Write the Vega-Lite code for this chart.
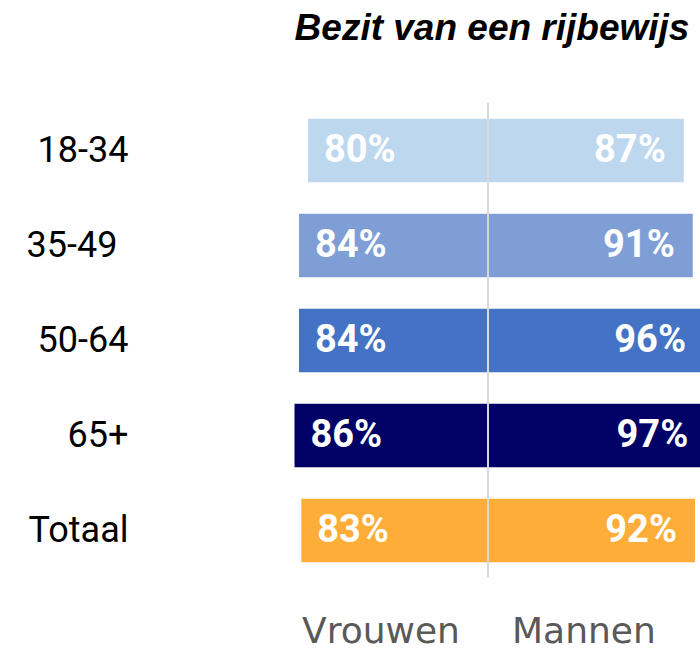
{
  "$schema": "https://vega.github.io/schema/vega-lite/v6.json",
  "width": 416,
  "height": 475,
  "autosize": "none",
  "padding": {"left": 284, "top": 103, "right": 0, "bottom": 74},
  "background": "white",
  "title": {"text": "Bezit van een rijbewijs", "font": "Liberation Sans", "fontSize": 37, "fontWeight": "bold", "fontStyle": "italic", "color": "#000000", "anchor": "middle", "offset": 54},
  "config": {"view": {"stroke": null}},
  "data": {"values": [
    {"groep": "18-34", "geslacht": "Vrouwen", "pct": 0.80},
    {"groep": "18-34", "geslacht": "Mannen", "pct": 0.87},
    {"groep": "35-49", "geslacht": "Vrouwen", "pct": 0.84},
    {"groep": "35-49", "geslacht": "Mannen", "pct": 0.91},
    {"groep": "50-64", "geslacht": "Vrouwen", "pct": 0.84},
    {"groep": "50-64", "geslacht": "Mannen", "pct": 0.96},
    {"groep": "65+", "geslacht": "Vrouwen", "pct": 0.86},
    {"groep": "65+", "geslacht": "Mannen", "pct": 0.97},
    {"groep": "Totaal", "geslacht": "Vrouwen", "pct": 0.83},
    {"groep": "Totaal", "geslacht": "Mannen", "pct": 0.92}
  ]},
  "layer": [
    {
      "transform": [{"filter": "datum.geslacht == 'Vrouwen'"}],
      "encoding": {
        "y": {"field": "groep", "type": "nominal", "sort": ["18-34", "35-49", "50-64", "65+", "Totaal"], "scale": {"paddingInner": 0.33, "paddingOuter": 0.165},
          "axis": {"title": null, "domain": false, "ticks": false, "grid": false, "labelFont": "Roboto", "labelFontSize": 36, "labelColor": "#000000", "labelAlign": "right", "labelBaseline": "middle", "labelPadding": {"condition": {"test": "datum.value === '35-49'", "value": 167}, "value": 156}}},
        "x": {"field": "pct", "type": "quantitative", "scale": {"domain": [-0.9422, 0.9067], "reverse": true, "nice": false, "zero": false}, "axis": null},
        "color": {"field": "groep", "type": "nominal", "scale": {"domain": ["18-34", "35-49", "50-64", "65+", "Totaal"], "range": ["#BDD7EE", "#7F9ED6", "#4472C4", "#000066", "#FFAD39"]}, "legend": null}
      },
      "layer": [
        {"mark": {"type": "bar"}},
        {"mark": {"type": "text", "align": "left", "baseline": "middle", "dx": 16, "font": "Roboto", "fontSize": 38, "fontWeight": "bold"},
         "encoding": {"text": {"field": "pct", "type": "quantitative", "format": ".0%"}, "color": {"value": "#FFFFFF"}}}
      ]
    },
    {
      "transform": [{"filter": "datum.geslacht == 'Mannen'"}],
      "encoding": {
        "y": {"field": "groep", "type": "nominal", "sort": ["18-34", "35-49", "50-64", "65+", "Totaal"], "scale": {"paddingInner": 0.33, "paddingOuter": 0.165},
          "axis": {"title": null, "domain": false, "ticks": false, "grid": false, "labelFont": "Roboto", "labelFontSize": 36, "labelColor": "#000000", "labelAlign": "right", "labelBaseline": "middle", "labelPadding": {"condition": {"test": "datum.value === '35-49'", "value": 167}, "value": 156}}},
        "x": {"field": "pct", "type": "quantitative", "scale": {"domain": [-0.9067, 0.9422], "nice": false, "zero": false},
          "axis": {"title": null, "values": [-0.478, 0.424], "labelExpr": "datum.value < 0 ? 'Vrouwen' : 'Mannen'", "domain": false, "ticks": false, "grid": false, "labelFont": "DejaVu Sans", "labelFontSize": 36, "labelColor": "#595959", "labelPadding": 36, "labelFlush": false, "labelOverlap": false}},
        "color": {"field": "groep", "type": "nominal", "scale": {"domain": ["18-34", "35-49", "50-64", "65+", "Totaal"], "range": ["#BDD7EE", "#7F9ED6", "#4472C4", "#000066", "#FFAD39"]}, "legend": null}
      },
      "layer": [
        {"mark": {"type": "bar"}},
        {"mark": {"type": "text", "align": "right", "baseline": "middle", "dx": -18, "font": "Roboto", "fontSize": 38, "fontWeight": "bold"},
         "encoding": {"text": {"field": "pct", "type": "quantitative", "format": ".0%"}, "color": {"value": "#FFFFFF"}}}
      ]
    },
    {
      "data": {"values": [{"midden": 0}]},
      "mark": {"type": "rule", "color": "#D9D9D9", "strokeWidth": 2},
      "encoding": {
        "x": {"field": "midden", "type": "quantitative", "scale": {"domain": [-0.9067, 0.9422], "nice": false, "zero": false}, "axis": null}
      }
    }
  ],
  "resolve": {"scale": {"x": "independent"}}
}
